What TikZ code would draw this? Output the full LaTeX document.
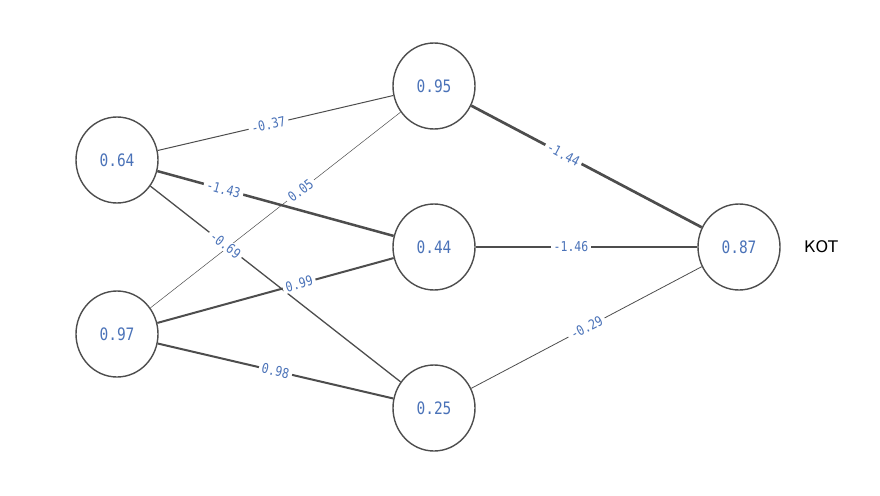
\documentclass[tikz,border=0pt]{standalone}
\usepackage{fontspec}
\setmonofont{DejaVu Sans Mono}
\newfontfamily\outfont{DejaVu Sans}
\usetikzlibrary{shapes.geometric}
\definecolor{valblue}{HTML}{4A72B8}
\definecolor{linkgray}{HTML}{4D4D4D}
\pgfdeclarelayer{front}
\pgfsetlayers{main,front}
\newcommand{\tallval}[1]{\scalebox{1}[1.18]{#1}}
\begin{document}
\begin{tikzpicture}[x=1pt, y=-1pt,
    neuron/.style={ellipse, draw=linkgray, line width=1.4pt, fill=white,
      minimum width=82pt, minimum height=86pt, inner sep=0pt,
      font=\ttfamily\fontsize{14.5}{14.5}\selectfont, text=valblue},
    weight/.style={sloped, fill=white, inner xsep=3pt, inner ysep=1pt,
      font=\ttfamily\fontsize{11.5}{11.5}\selectfont, text=valblue},
    link/.style={draw=linkgray, line width=#1}]
  \useasboundingbox (0,0) rectangle (880,495);
  % neurons
  \node[neuron] (i1) at (117,160) {\tallval{0.64}};
  \node[neuron] (i2) at (117,334) {\tallval{0.97}};
  \node[neuron] (h1) at (434,86) {\tallval{0.95}};
  \node[neuron] (h2) at (434,247) {\tallval{0.44}};
  \node[neuron] (h3) at (434,408) {\tallval{0.25}};
  \node[neuron] (o1) at (739,247) {\tallval{0.87}};
  \node[font=\outfont\fontsize{16}{16}\selectfont] (lab) at (821,247) {КОТ};
  % weights
  \draw[link=0.5pt] (i2) -- (h1);
  \draw[link=1pt] (i1) -- (h1);
  \draw[link=2.5pt] (i1) -- (h2);
  \draw[link=1.3pt] (i1) -- (h3);
  \draw[link=2pt] (i2) -- (h2);
  \draw[link=2pt] (i2) -- (h3);
  \draw[link=2.7pt] (h1) -- (o1);
  \draw[link=2.7pt] (h2) -- (o1);
  \draw[link=0.8pt] (h3) -- (o1);
  % weight labels on top of every line
  \begin{pgfonlayer}{front}
    \path (i2) -- (h1) node[weight, pos=0.6] {\tallval{0.05}};
    \path (i1) -- (h1) node[weight, pos=0.47] {\tallval{-0.37}};
    \path (i1) -- (h2) node[weight, pos=0.28] {\tallval{-1.43}};
    \path (i1) -- (h3) node[weight, pos=0.3] {\tallval{-0.69}};
    \path (i2) -- (h2) node[weight, pos=0.6] {\tallval{0.99}};
    \path (i2) -- (h3) node[weight, pos=0.5] {\tallval{0.98}};
    \path (h1) -- (o1) node[weight, pos=0.4] {\tallval{-1.44}};
    \path (h2) -- (o1) node[weight, pos=0.43] {\tallval{-1.46}};
    \path (h3) -- (o1) node[weight, pos=0.5] {\tallval{-0.29}};
  \end{pgfonlayer}
\end{tikzpicture}
\end{document}
